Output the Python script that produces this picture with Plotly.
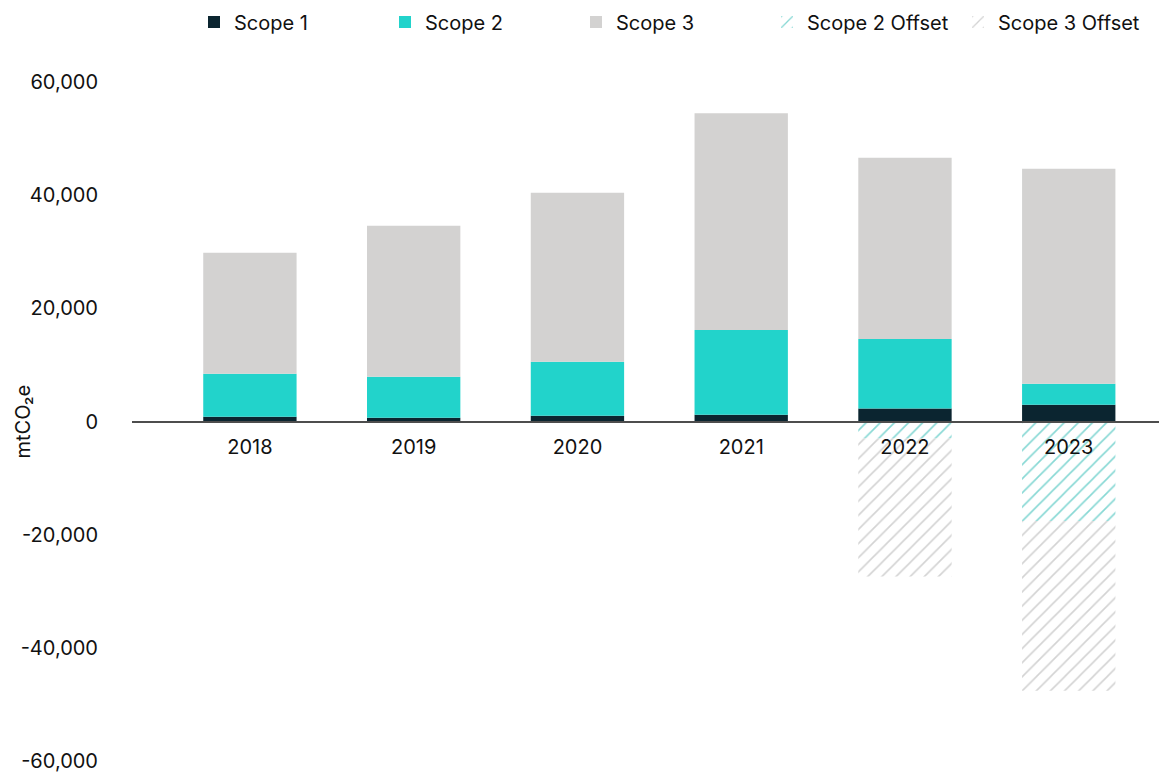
import plotly.graph_objects as go

years = ["2018", "2019", "2020", "2021", "2022", "2023"]
scope1 = [830, 650, 1000, 1180, 2300, 2950]
scope2 = [7600, 7240, 9540, 15000, 12300, 3700]
scope3 = [21400, 26700, 29900, 38300, 32000, 38000]
scope2_offset = [None, None, None, None, -3000, -17600]
scope3_offset = [None, None, None, None, -24400, -30000]

tick_vals = [-60000, -40000, -20000, 0, 20000, 40000, 60000]
tick_text = ["-60,000", "-40,000", "-20,000", "0", "20,000", "40,000", "60,000"]

C1 = "#0b2530"
C2 = "#22d3cb"
C3 = "#d3d2d1"
FONT = "Inter"

# page has an 8px body margin; figure is sized to fit the 1167x775 window
W, H = 1159, 767
L, T = 124, 74
B = 13.5
PW = W - L

fig = go.Figure()
fig.add_trace(go.Bar(name="Scope 1", x=years, y=scope1, marker=dict(color=C1, line=dict(width=0))))
fig.add_trace(go.Bar(name="Scope 2", x=years, y=scope2, marker=dict(color=C2, line=dict(width=0))))
fig.add_trace(go.Bar(name="Scope 3", x=years, y=scope3, marker=dict(color=C3, line=dict(width=0))))
fig.add_trace(go.Bar(name="Scope 2 Offset", x=years, y=scope2_offset,
                     marker=dict(color="white", line=dict(width=0),
                                 pattern=dict(shape="/", fgcolor="#86d8d4", bgcolor="white",
                                              size=10, solidity=0.16, fillmode="replace"))))
fig.add_trace(go.Bar(name="Scope 3 Offset", x=years, y=scope3_offset,
                     marker=dict(color="white", line=dict(width=0),
                                 pattern=dict(shape="/", fgcolor="#d3d3d3", bgcolor="white",
                                              size=10, solidity=0.16, fillmode="replace"))))

fig.update_traces(width=0.57)

fig.update_layout(
    width=W, height=H,
    barmode="relative",
    plot_bgcolor="white", paper_bgcolor="white",
    margin=dict(l=L, r=0, t=T, b=B, autoexpand=False),
    font=dict(family=FONT, size=20, color="#111111"),
    showlegend=True,
    legend=dict(orientation="h", x=62 / PW, y=1 - 14 / H, xanchor="left", yanchor="middle",
                yref="container", xref="paper", font=dict(size=20), traceorder="normal",
                itemwidth=30, entrywidth=146),
    xaxis=dict(type="category", range=[-0.72, 5.6], anchor="free", position=0.5,
               showline=True, linecolor="#4d4d4d", linewidth=2, showgrid=False,
               ticks="", ticklabelstandoff=7, zeroline=False, automargin=False),
    yaxis=dict(range=[-60000, 60000], tickvals=tick_vals, ticktext=tick_text,
               showgrid=False, zeroline=False, showline=False, ticks="",
               ticklabelstandoff=33, automargin=False),
    annotations=[dict(text="mtCO₂e", xref="paper", yref="y", x=(22 - 132) / PW, y=0,
                      xanchor="center", yanchor="middle", textangle=-90,
                      showarrow=False, font=dict(size=20))],
)

fig.write_html("out.html")
